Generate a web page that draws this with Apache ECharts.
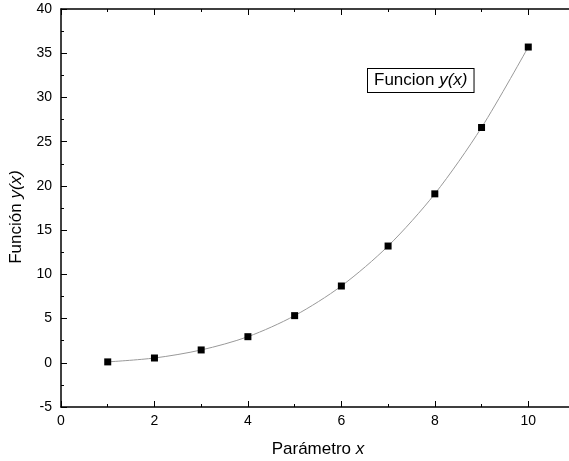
<!DOCTYPE html>
<html>
<head>
<meta charset="utf-8">
<script src="https://cdn.jsdelivr.net/npm/echarts@6/dist/echarts.min.js"></script>
<style>
  html, body { margin: 0; padding: 0; background: #fff; }
  #chart { width: 569px; height: 461px; }
</style>
</head>
<body>
<div id="chart"></div>
<script>
// datos
var xValues = [1, 2, 3, 4, 5, 6, 7, 8, 9, 10]
var yValues = [0.1, 0.54, 1.45, 2.95, 5.33, 8.68, 13.2, 19.1, 26.6, 35.7]
var legendText = 'Funcion {i|y(x)}'

var points = xValues.map(function(x, i) { return [x, yValues[i]] })

var font = 'Liberation Sans, Arial, sans-serif'
var axisLine = { show: true, onZero: false, lineStyle: { color: '#000', width: 1.5 } }
var tick = { show: true, inside: true, length: 6, lineStyle: { color: '#000', width: 1 } }
var minor = { show: true, splitNumber: 2, length: 3, lineStyle: { color: '#000', width: 1 } }
var italic = { i: { fontStyle: 'italic', fontSize: 17, color: '#000', fontFamily: font } }

var chart = echarts.init(document.getElementById('chart'))
chart.setOption({
  animation: false,
  textStyle: { fontFamily: font },
  grid: { left: 61, right: -6, top: 9, bottom: 54, outerBoundsMode: 'none', containLabel: false },
  xAxis: [
    {
      type: 'value',
      min: 0,
      max: 11,
      interval: 2,
      name: 'Parámetro {i|x}',
      nameLocation: 'middle',
      nameGap: 34,
      nameTextStyle: { color: '#000', fontSize: 17, fontFamily: font, rich: italic },
      axisLine: axisLine,
      axisTick: tick,
      minorTick: minor,
      splitLine: { show: false },
      axisLabel: { color: '#000', fontSize: 14, margin: 7, showMaxLabel: false }
    },
    {
      type: 'value',
      position: 'top',
      min: 0,
      max: 11,
      interval: 2,
      axisLine: axisLine,
      axisTick: tick,
      minorTick: minor,
      splitLine: { show: false },
      axisLabel: { show: false }
    }
  ],
  yAxis: {
    type: 'value',
    min: -5,
    max: 40,
    interval: 5,
    name: 'Función {i|y(x)}',
    nameLocation: 'middle',
    nameGap: 36,
    nameTextStyle: { color: '#000', fontSize: 17, fontFamily: font, padding: [0, 18, 0, 0], rich: italic },
    axisLine: axisLine,
    axisTick: tick,
    minorTick: minor,
    splitLine: { show: false },
    axisLabel: { color: '#000', fontSize: 14, margin: 9 }
  },
  series: [
    {
      type: 'line',
      data: points,
      smooth: 0.3,
      symbol: 'rect',
      symbolSize: 7,
      itemStyle: { color: '#000' },
      lineStyle: { color: '#999', width: 1 }
    }
  ],
  graphic: [
    {
      type: 'text',
      left: 367,
      top: 68,
      style: {
        text: legendText,
        fontFamily: font,
        fontSize: 17,
        fill: '#000',
        backgroundColor: '#fff',
        borderColor: '#000',
        borderWidth: 1,
        padding: [3, 6, 3, 6],
        rich: { i: { fontStyle: 'italic', fontSize: 17, fill: '#000', fontFamily: font } }
      }
    }
  ]
})
</script>
</body>
</html>
